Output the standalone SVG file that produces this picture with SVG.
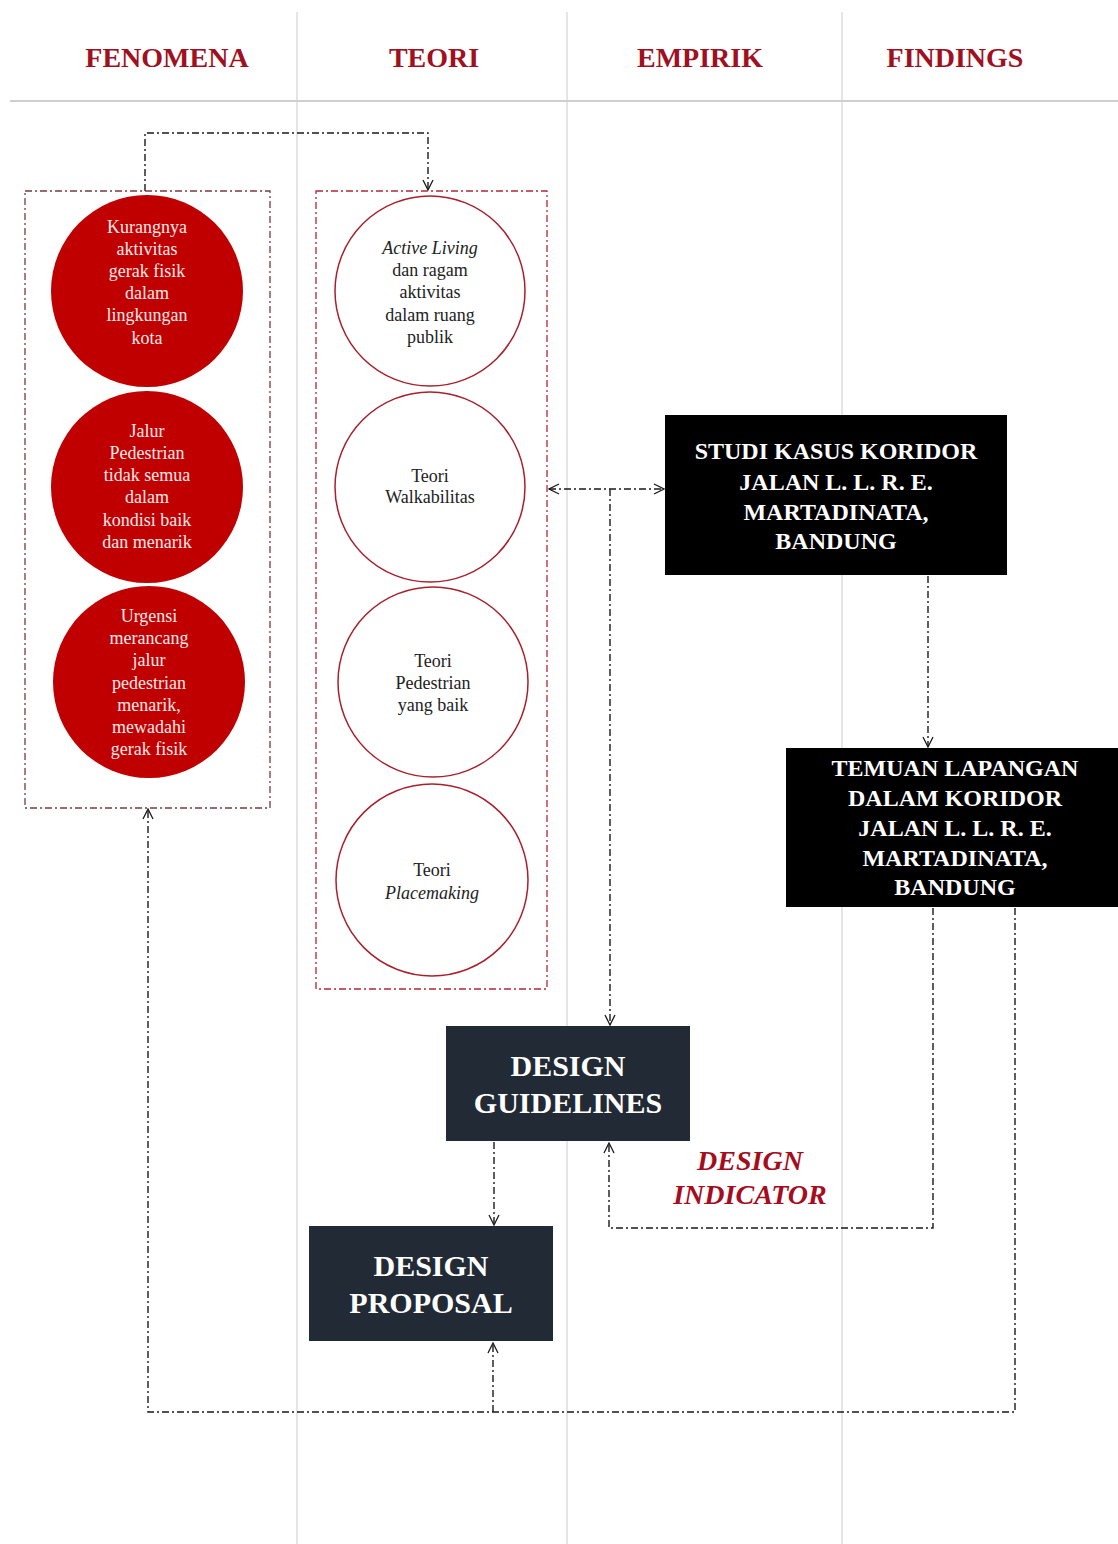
<svg xmlns="http://www.w3.org/2000/svg" width="1118" height="1544" viewBox="0 0 1118 1544">
<defs>
<style>
.grid{stroke:#d4d4d4;stroke-width:1.2;fill:none}
.hdr{font-family:"Liberation Serif",serif;font-weight:bold;font-size:28px;fill:#a0101e;text-anchor:middle}
.grp{fill:none;stroke-width:1.3;stroke-dasharray:7 3 2 3}
.g1{stroke:#7a3a44}
.g2{stroke:#b02838}
.redc{fill:#c00000}
.outc{fill:#fff;stroke:#a8202c;stroke-width:1.5}
.ct{font-family:"Liberation Serif",serif;font-size:18px;text-anchor:middle}
.w{fill:#fbe9e9}
.k{fill:#222}
.it{font-style:italic}
.bt{font-family:"Liberation Serif",serif;font-weight:bold;font-size:24px;fill:#fff;text-anchor:middle}
.bt2{font-family:"Liberation Serif",serif;font-weight:bold;font-size:30px;fill:#fff;text-anchor:middle}
.ind{font-family:"Liberation Serif",serif;font-weight:bold;font-style:italic;font-size:28px;fill:#a50d1e;text-anchor:middle}
.con{fill:none;stroke:#1a1a1a;stroke-width:1.4;stroke-dasharray:7 3 2 3}
</style>
<marker id="ah" viewBox="0 0 12 12" refX="11" refY="6" markerWidth="12" markerHeight="12" markerUnits="userSpaceOnUse" orient="auto-start-reverse">
<path d="M1,1 L11,6 L1,11" fill="none" stroke="#1a1a1a" stroke-width="1.3"/>
</marker>
</defs>
<rect width="1118" height="1544" fill="#fff"/>
<g id="grid">
<line class="grid" x1="297" y1="12" x2="297" y2="1544"/>
<line class="grid" x1="567" y1="12" x2="567" y2="1544"/>
<line class="grid" x1="842" y1="12" x2="842" y2="1544"/>
<line x1="10" y1="101" x2="1118" y2="101" stroke="#cfcfcf" stroke-width="2"/>
</g>
<g id="headers">
<text class="hdr" x="167" y="67">FENOMENA</text>
<text class="hdr" x="434" y="67">TEORI</text>
<text class="hdr" x="700" y="67">EMPIRIK</text>
<text class="hdr" x="955" y="67">FINDINGS</text>
</g>
<g id="connectors">
<path class="con" d="M145,191 V133 H428 V190" marker-end="url(#ah)"/>
<path class="con" d="M549,489 H664" marker-start="url(#ah)" marker-end="url(#ah)"/>
<path class="con" d="M610,489 V1025" marker-end="url(#ah)"/>
<path class="con" d="M928,576 V747" marker-end="url(#ah)"/>
<path class="con" d="M933,908 V1228 H609 V1143" marker-end="url(#ah)"/>
<path class="con" d="M1015,908 V1412 H148 V809" marker-end="url(#ah)"/>
<path class="con" d="M493,1412 V1343" marker-end="url(#ah)"/>
<path class="con" d="M494,1142 V1225" marker-end="url(#ah)"/>
</g>
<g id="fenomena-group">
<rect class="grp g1" x="25" y="191" width="245" height="617"/>
</g>
<g id="fenomena-1">
<circle class="redc" cx="147" cy="291" r="96"/>
<text class="ct w" x="147"><tspan x="147" y="233">Kurangnya</tspan><tspan x="147" y="255">aktivitas</tspan><tspan x="147" y="277">gerak fisik</tspan><tspan x="147" y="299">dalam</tspan><tspan x="147" y="321">lingkungan</tspan><tspan x="147" y="344">kota</tspan></text>
</g>
<g id="fenomena-2">
<circle class="redc" cx="147" cy="487" r="96"/>
<text class="ct w" x="147"><tspan x="147" y="437">Jalur</tspan><tspan x="147" y="459">Pedestrian</tspan><tspan x="147" y="481">tidak semua</tspan><tspan x="147" y="503">dalam</tspan><tspan x="147" y="526">kondisi baik</tspan><tspan x="147" y="548">dan menarik</tspan></text>
</g>
<g id="fenomena-3">
<circle class="redc" cx="149" cy="682" r="96"/>
<text class="ct w" x="149"><tspan x="149" y="622">Urgensi</tspan><tspan x="149" y="644">merancang</tspan><tspan x="149" y="666">jalur</tspan><tspan x="149" y="689">pedestrian</tspan><tspan x="149" y="711">menarik,</tspan><tspan x="149" y="733">mewadahi</tspan><tspan x="149" y="755">gerak fisik</tspan></text>
</g>
<g id="teori-group">
<rect class="grp g2" x="316" y="191" width="231" height="798"/>
</g>
<g id="teori-1">
<circle class="outc" cx="430" cy="291" r="95"/>
<text class="ct k" x="430"><tspan class="it" x="430" y="254">Active Living</tspan><tspan x="430" y="276">dan ragam</tspan><tspan x="430" y="298">aktivitas</tspan><tspan x="430" y="321">dalam ruang</tspan><tspan x="430" y="343">publik</tspan></text>
</g>
<g id="teori-2">
<circle class="outc" cx="430" cy="487" r="95"/>
<text class="ct k" x="430"><tspan x="430" y="482">Teori</tspan><tspan x="430" y="503">Walkabilitas</tspan></text>
</g>
<g id="teori-3">
<circle class="outc" cx="433" cy="682" r="95"/>
<text class="ct k" x="433"><tspan x="433" y="667">Teori</tspan><tspan x="433" y="689">Pedestrian</tspan><tspan x="433" y="711">yang baik</tspan></text>
</g>
<g id="teori-4">
<circle class="outc" cx="432" cy="880" r="96"/>
<text class="ct k" x="432"><tspan x="432" y="876">Teori</tspan><tspan class="it" x="432" y="899">Placemaking</tspan></text>
</g>
<g id="studi-kasus">
<rect x="665" y="415" width="342" height="160" fill="#000"/>
<text class="bt"><tspan x="836" y="459">STUDI KASUS KORIDOR</tspan><tspan x="836" y="490">JALAN L. L. R. E.</tspan><tspan x="836" y="520">MARTADINATA,</tspan><tspan x="836" y="549">BANDUNG</tspan></text>
</g>
<g id="temuan">
<rect x="786" y="748" width="332" height="159" fill="#000"/>
<text class="bt"><tspan x="955" y="776">TEMUAN LAPANGAN</tspan><tspan x="955" y="806">DALAM KORIDOR</tspan><tspan x="955" y="836">JALAN L. L. R. E.</tspan><tspan x="955" y="866">MARTADINATA,</tspan><tspan x="955" y="895">BANDUNG</tspan></text>
</g>
<g id="design-guidelines">
<rect x="446" y="1026" width="244" height="115" fill="#222a35"/>
<text class="bt2"><tspan x="568" y="1076">DESIGN</tspan><tspan x="568" y="1113">GUIDELINES</tspan></text>
</g>
<g id="design-proposal">
<rect x="309" y="1226" width="244" height="115" fill="#222a35"/>
<text class="bt2"><tspan x="431" y="1276">DESIGN</tspan><tspan x="431" y="1313">PROPOSAL</tspan></text>
</g>
<g id="design-indicator-label">
<text class="ind"><tspan x="750" y="1170">DESIGN</tspan><tspan x="750" y="1204">INDICATOR</tspan></text>
</g>
</svg>
